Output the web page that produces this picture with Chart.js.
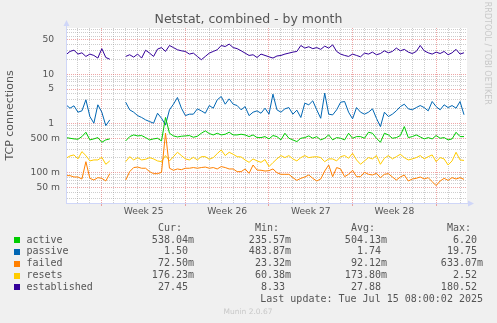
<!DOCTYPE html>
<html>
<head>
<meta charset="utf-8">
<title>Netstat, combined - by month</title>
<script src="https://cdn.jsdelivr.net/npm/chart.js@4.4.1/dist/chart.umd.min.js"></script>
<style>
  html, body { margin: 0; padding: 0; background: #f0f0f0; }
  canvas { display: block; }
</style>
</head>
<body>
<canvas id="netstatChart" width="497" height="323"></canvas>
<script>
// sample times in hours from the left edge of the graph (one sample every 8 h)
var hours = [0, 8, 16, 24, 32, 40, 48, 56, 64, 72, 80, 88, 96, 104, 112, 120, 128, 136, 144, 152,
    160, 168, 176, 184, 192, 200, 208, 216, 224, 232, 240, 248, 256, 264, 272, 280, 288, 296, 304, 312,
    320, 328, 336, 344, 352, 360, 368, 376, 384, 392, 400, 408, 416, 424, 432, 440, 448, 456, 464, 472,
    480, 488, 496, 504, 512, 520, 528, 536, 544, 552, 560, 568, 576, 584, 592, 600, 608, 616, 624, 632,
    640, 648, 656, 664, 672, 680, 688, 696, 704, 712, 720, 728, 736, 744, 752, 760, 768, 776, 784, 792, 800];

var activeVals = [0.514, 0.498, 0.483, 0.475, 0.538, 0.660, 0.461, 0.483, 0.514, 0.413, 0.461, 0.483,
    null, null, null,
    0.440, 0.538, 0.582, 0.556, 0.565, 0.514, 0.461, 0.483, 0.498, 0.440, 1.32, 0.630, 0.556, 0.530, 0.547, 0.556, 0.565, 0.522, 0.547,
    0.630, 0.703, 0.621, 0.582, 0.630, 0.582, 0.601, 0.660, 0.582, 0.582, 0.601, 0.582, 0.538, 0.582, 0.514, 0.514, 0.538,
    0.483, 0.565, 0.538, 0.461, 0.630, 0.498, 0.461, 0.426, 0.498, 0.514, 0.556, 0.498, 0.538, 0.461, 0.498, 0.582, 0.461,
    0.514, 0.498, 0.461, 0.630, 0.498, 0.538, 0.538, 0.498, 0.660, 0.630, 0.498, 0.413, 0.630, 0.582, 0.498, 0.514, 0.565,
    0.862, 0.514, 0.538, 0.582, 0.530, 0.483, 0.514, 0.483, 0.565, 0.498, 0.514, 0.461, 0.483, 0.660, 0.538, 0.538];

var passiveVals = [2.39, 2.04, 2.28, 1.69, 1.80, 3.02, 1.38, 1.01, 2.39, 1.69, 0.90, 1.18,
    null, null, null,
    2.70, 1.89, 1.69, 1.44, 1.32, 1.18, 1.09, 1.01, 1.61, 1.27, 0.93, 1.89, 2.46, 3.37, 2.04, 1.44, 1.54, 1.54, 1.98,
    1.80, 1.61, 2.31, 2.04, 3.02, 3.53, 2.46, 3.16, 2.46, 2.31, 1.89, 2.20, 1.44, 1.69, 1.80, 1.61, 2.04,
    1.54, 3.94, 1.89, 1.69, 1.98, 2.10, 1.54, 1.86, 1.32, 2.58, 2.39, 2.88, 1.89, 1.27, 4.13, 1.54, 1.49,
    1.89, 2.70, 2.79, 1.69, 1.24, 2.10, 1.69, 1.54, 1.69, 1.98, 1.27, 0.86, 1.69, 1.38, 1.54, 1.80, 2.20,
    2.46, 1.98, 1.89, 2.10, 2.31, 2.10, 1.80, 2.79, 2.20, 1.89, 2.39, 2.10, 2.31, 2.04, 2.79, 1.50];

var failedVals = [0.0862, 0.0862, 0.0810, 0.0810, 0.0737, 0.166, 0.0760, 0.0703, 0.0785, 0.0760, 0.0671, 0.0950,
    null, null, null,
    0.0703, 0.104, 0.126, 0.129, 0.122, 0.122, 0.104, 0.0947, 0.0947, 0.1007, 0.633, 0.122, 0.111, 0.118, 0.114, 0.122, 0.122, 0.126, 0.122,
    0.126, 0.129, 0.122, 0.126, 0.118, 0.132, 0.126, 0.118, 0.118, 0.104, 0.104, 0.118, 0.0962, 0.142, 0.112, 0.111, 0.107,
    0.109, 0.118, 0.099, 0.0918, 0.0918, 0.0918, 0.0785, 0.0692, 0.0760, 0.0810, 0.0889, 0.0760, 0.0671, 0.0737, 0.107, 0.142, 0.0822,
    0.126, 0.118, 0.0822, 0.0918, 0.111, 0.0822, 0.0822, 0.1007, 0.0918, 0.0889, 0.0962, 0.0785, 0.0918, 0.0947, 0.0810, 0.0703, 0.0810,
    0.0889, 0.0671, 0.0737, 0.0760, 0.0810, 0.0737, 0.0785, 0.0650, 0.0539, 0.0671, 0.0760, 0.0692, 0.0785, 0.0737, 0.0785, 0.0725];

var resetsVals = [0.195, 0.217, 0.228, 0.189, 0.266, 0.221, 0.172, 0.180, 0.180, 0.204, 0.147, 0.172,
    null, null, null,
    0.166, 0.210, 0.180, 0.201, 0.180, 0.186, 0.201, 0.189, 0.172, 0.166, 0.221, 0.172, 0.210, 0.258, 0.221, 0.189, 0.180, 0.204, 0.180,
    0.210, 0.210, 0.186, 0.201, 0.242, 0.288, 0.221, 0.258, 0.235, 0.210, 0.207, 0.180, 0.161, 0.189, 0.172, 0.161, 0.183,
    0.132, 0.159, 0.189, 0.221, 0.201, 0.221, 0.189, 0.172, 0.201, 0.221, 0.201, 0.207, 0.210, 0.201, 0.166, 0.189, 0.189,
    0.172, 0.210, 0.221, 0.195, 0.246, 0.180, 0.147, 0.172, 0.201, 0.189, 0.221, 0.147, 0.195, 0.221, 0.189, 0.210, 0.235,
    0.201, 0.180, 0.189, 0.201, 0.221, 0.189, 0.210, 0.228, 0.166, 0.201, 0.189, 0.142, 0.172, 0.258, 0.180, 0.176];

var establishedVals = [25.0, 29.2, 31.0, 25.8, 27.4, 23.1, 25.8, 24.2, 21.4, 33.3, 22.0, 20.3,
    null, null, null,
    23.1, 25.0, 22.4, 25.8, 21.4, 31.0, 27.0, 23.1, 32.6, 35.0, 29.2, 38.6, 35.0, 31.6, 30.1, 29.2, 25.8, 27.0, 23.1,
    19.8, 23.1, 27.0, 29.2, 31.6, 38.6, 36.8, 41.2, 35.0, 33.3, 30.1, 27.0, 24.2, 25.0, 22.0, 25.8, 24.2,
    22.7, 21.4, 23.6, 24.2, 25.8, 27.0, 28.3, 29.2, 38.6, 34.2, 36.4, 33.3, 35.0, 32.2, 37.4, 34.2, 39.8,
    29.2, 25.8, 24.2, 23.1, 25.8, 24.2, 22.7, 27.0, 25.8, 28.3, 25.0, 26.5, 30.1, 27.4, 29.2, 34.2, 30.1,
    32.2, 28.3, 26.5, 29.2, 38.6, 30.1, 27.4, 25.8, 28.3, 26.5, 29.2, 25.0, 27.4, 32.2, 25.8, 27.45];

var seriesNames = ['active', 'passive', 'failed', 'resets', 'established'];
var seriesColors = ['#00cc00', '#0066b3', '#ff8000', '#ffcc00', '#330099'];
var seriesVals = [activeVals, passiveVals, failedVals, resetsVals, establishedVals];

// legend table (munin formats: trailing space when there is no unit)
var curText = ['538.04m', '1.50 ', '72.50m', '176.23m', '27.45 '];
var minText = ['235.57m', '483.87m', '23.32m', '60.38m', '8.33 '];
var avgText = ['504.13m', '1.74 ', '92.12m', '173.80m', '27.88 '];
var maxText = ['6.20 ', '19.75 ', '633.07m', '2.52 ', '180.52 '];

var weekLabels = ['Week 25', 'Week 26', 'Week 27', 'Week 28'];
var weekCenters = [156, 324, 492, 660];
var yLabelValues = [0.05, 0.1, 0.5, 1, 5, 10, 50];
var yLabelText = ['50 m', '100 m', '500 m', '1  ', '5  ', '10  ', '50  '];
var yMinorValues = [0.03, 0.04, 0.06, 0.07, 0.08, 0.09, 0.2, 0.3, 0.4, 0.6, 0.7, 0.8, 0.9,
    2, 3, 4, 6, 7, 8, 9, 20, 30, 40, 60, 70, 80];

var RED_GRID = 'rgba(224, 80, 80, 0.5)';
var GREY_GRID = 'rgba(144, 144, 144, 0.45)';
var AXIS = '#cfd6f8';
var FONT_COLOR = '#555555';

Chart.defaults.font.family = '"DejaVu Sans", sans-serif';

function toPoints(vals) {
    return hours.map(function (h, i) { return { x: h, y: vals[i] }; });
}
function isWeekLine(h) { return h >= 72 && (h - 72) % 168 === 0; }
function yLabelIndex(v) {
    for (var i = 0; i < yLabelValues.length; i++) {
        if (Math.abs(v - yLabelValues[i]) / yLabelValues[i] < 1e-6) return i;
    }
    return -1;
}

var xTickHours = [];
for (var h = 0; h <= 792; h += 24) xTickHours.push(h);
xTickHours = xTickHours.concat(weekCenters).sort(function (a, b) { return a - b; });
var yTickValues = yLabelValues.concat(yMinorValues).sort(function (a, b) { return a - b; });

// grey canvas, white plot area, axis arrows, legend table and small print
var muninFrame = {
    id: 'muninFrame',
    beforeDraw: function (chart) {
        var c = chart.ctx, a = chart.chartArea;
        c.save();
        c.fillStyle = '#f0f0f0';
        c.fillRect(0, 0, chart.width, chart.height);
        c.fillStyle = '#ffffff';
        c.fillRect(a.left, a.top, a.right - a.left, a.bottom - a.top);
        c.restore();
    },
    afterDraw: function (chart) {
        var c = chart.ctx, a = chart.chartArea;
        var ax = Math.round(a.left) + 0.5, ay = Math.round(a.bottom) + 0.5;
        c.save();
        c.strokeStyle = AXIS;
        c.fillStyle = AXIS;
        c.lineWidth = 1;
        c.beginPath();
        c.moveTo(ax, ay); c.lineTo(ax, a.top - 3);
        c.moveTo(ax, ay); c.lineTo(a.right + 3, ay);
        c.stroke();
        c.beginPath();
        c.moveTo(ax, a.top - 8); c.lineTo(ax - 3, a.top - 2); c.lineTo(ax + 3, a.top - 2);
        c.closePath(); c.fill();
        c.beginPath();
        c.moveTo(a.right + 7, ay); c.lineTo(a.right + 1, ay - 3); c.lineTo(a.right + 1, ay + 3);
        c.closePath(); c.fill();

        c.font = '10px "DejaVu Sans Mono", monospace';
        c.textBaseline = 'middle';
        c.fillStyle = FONT_COLOR;
        c.textAlign = 'left';
        c.fillText('Cur:', 158, 228.2);
        c.fillText('Min:', 255, 228.2);
        c.fillText('Avg:', 351, 228.2);
        c.fillText('Max:', 447, 228.2);
        for (var i = 0; i < seriesNames.length; i++) {
            var y = 240 + i * 11.85;
            c.fillStyle = seriesColors[i];
            c.fillRect(14, Math.round(y) - 3, 6, 6);
            c.fillStyle = FONT_COLOR;
            c.textAlign = 'left';
            c.fillText(seriesNames[i], 26.5, y);
            c.textAlign = 'right';
            c.fillText(curText[i], 194, y);
            c.fillText(minText[i], 291, y);
            c.fillText(avgText[i], 387, y);
            c.fillText(maxText[i], 483, y);
        }
        c.fillText('Last update: Tue Jul 15 08:00:02 2025', 483, 299.3);

        c.fillStyle = '#c8c8c8';
        c.textAlign = 'center';
        c.font = '7.5px "DejaVu Sans", sans-serif';
        c.fillText('Munin 2.0.67', 248, 312);
        c.translate(487.5, 53.3);
        c.rotate(Math.PI / 2);
        c.font = '8px "DejaVu Sans", sans-serif';
        c.fillText('RRDTOOL / TOBI OETIKER', 0, 0);
        c.restore();
    }
};

var ctx = document.getElementById('netstatChart').getContext('2d');
var netstatChart = new Chart(ctx, {
    type: 'line',
    data: {
        datasets: seriesNames.map(function (name, i) {
            return {
                label: name,
                data: toPoints(seriesVals[i]),
                borderColor: seriesColors[i],
                borderWidth: 1,
                pointRadius: 0,
                tension: 0,
                fill: false
            };
        })
    },
    options: {
        responsive: false,
        animation: false,
        events: [],
        layout: { padding: { left: 0, right: 0, top: 0, bottom: 100 } },
        plugins: {
            legend: { display: false },
            tooltip: { enabled: false },
            title: {
                display: true,
                text: 'Netstat, combined - by month',
                color: FONT_COLOR,
                font: { size: 12.5, weight: 'normal' },
                padding: { top: 11.8, bottom: 1.2 }
            }
        },
        scales: {
            x: {
                type: 'linear',
                min: 0,
                max: 806,
                afterBuildTicks: function (scale) {
                    scale.ticks = xTickHours.map(function (v) { return { value: v }; });
                },
                afterFit: function (scale) { scale.height = 20; },
                ticks: {
                    autoSkip: false,
                    maxRotation: 0,
                    minRotation: 0,
                    padding: 0,
                    color: FONT_COLOR,
                    font: { size: 9.2 },
                    callback: function (value) {
                        var k = weekCenters.indexOf(value);
                        return k >= 0 ? weekLabels[k] : '';
                    }
                },
                grid: {
                    lineWidth: 1,
                    tickLength: 3,
                    color: function (c) {
                        if (!c.tick) return GREY_GRID;
                        var v = c.tick.value;
                        if (isWeekLine(v)) return RED_GRID;
                        if (v % 24 === 0) return GREY_GRID;
                        return 'rgba(0,0,0,0)';
                    },
                    tickColor: function (c) {
                        return c.tick && isWeekLine(c.tick.value) ? RED_GRID : 'rgba(0,0,0,0)';
                    }
                },
                border: { color: AXIS, dash: [1, 1] }
            },
            y: {
                type: 'logarithmic',
                min: 0.0239,
                max: 87.7,
                afterBuildTicks: function (scale) {
                    scale.ticks = yTickValues.map(function (v) { return { value: v }; });
                },
                afterFit: function (scale) { scale.width = 66; },
                title: {
                    display: true,
                    text: 'TCP connections',
                    color: FONT_COLOR,
                    font: { size: 11 },
                    padding: { top: 4, bottom: 0 }
                },
                ticks: {
                    autoSkip: false,
                    padding: 6,
                    color: FONT_COLOR,
                    font: { size: 9.2 },
                    callback: function (value) {
                        var k = yLabelIndex(value);
                        return k >= 0 ? yLabelText[k] : '';
                    }
                },
                grid: {
                    lineWidth: 1,
                    drawTicks: false,
                    color: function (c) {
                        if (!c.tick) return GREY_GRID;
                        return yLabelIndex(c.tick.value) >= 0 ? RED_GRID : GREY_GRID;
                    }
                },
                border: { color: AXIS, dash: [1, 1] }
            },
            // empty right-hand box that keeps the plot clear of the rrdtool watermark
            side: {
                position: 'right',
                display: true,
                afterFit: function (scale) { scale.width = 30; },
                ticks: { display: false },
                grid: { display: false, drawTicks: false },
                border: { display: false }
            }
        }
    }
    ,
    plugins: [muninFrame]
});
</script>
</body>
</html>
